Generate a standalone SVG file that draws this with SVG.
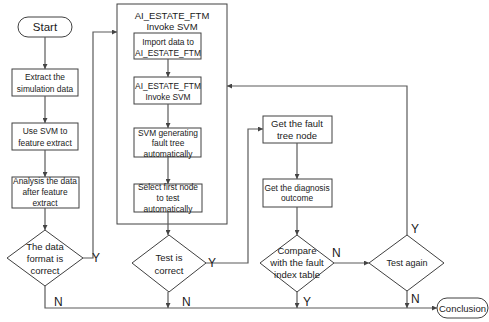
<svg xmlns="http://www.w3.org/2000/svg" width="489" height="322" viewBox="0 0 489 322">
<defs>
<marker id="ah" viewBox="0 0 6 6" refX="6" refY="3" markerWidth="5" markerHeight="5" orient="auto" markerUnits="userSpaceOnUse">
<path d="M0,0 L6,3 L0,6 z" fill="#444"/>
</marker>
<style>
.box{fill:#fff;stroke:#404040;stroke-width:1}
.frame{fill:none;stroke:#404040;stroke-width:1}
.con{fill:none;stroke:#5a5a5a;stroke-width:1.2}
.arr{marker-end:url(#ah)}
text{font-family:"Liberation Sans",Arial,sans-serif;fill:#1a1a1a;text-anchor:middle}
.s{font-size:8.4px}
.m{font-size:9.5px}
.l{font-size:11.5px}
.lab{font-size:12px;text-anchor:start}
</style>
</defs>
<rect width="489" height="322" fill="#fff"/>

<g id="ftm">
<rect class="frame" x="117" y="4" width="110" height="220"/>
<text class="m" x="172" y="19">AI_ESTATE_FTM</text>
<text class="m" x="172" y="30">Invoke SVM</text>
</g>

<g id="start">
<rect class="box" x="18" y="17" width="54" height="20" rx="10"/>
<text class="l" x="45" y="31">Start</text>
</g>
<g id="extract">
<rect class="box" x="12" y="69" width="66" height="27"/>
<text class="s" x="45" y="80">Extract the</text>
<text class="s" x="45" y="92">simulation data</text>
</g>
<g id="usesvm">
<rect class="box" x="12" y="123" width="66" height="27"/>
<text class="s" x="45" y="134">Use SVM to</text>
<text class="s" x="45" y="146">feature extract</text>
</g>
<g id="analysis">
<rect class="box" x="12" y="177" width="67" height="31"/>
<text class="s" x="45" y="184">Analysis the data</text>
<text class="s" x="45" y="195">after feature</text>
<text class="s" x="45" y="206">extract</text>
</g>
<g id="format">
<polygon class="box" points="45,230 83,258 45,286 7,258"/>
<text class="m" x="45" y="250">The data</text>
<text class="m" x="45" y="262">format is</text>
<text class="m" x="45" y="274">correct</text>
</g>

<g id="import">
<rect class="box" x="134" y="33" width="67" height="26"/>
<text class="s" x="168" y="45">Import data to</text>
<text class="s" x="168" y="56">AI_ESTATE_FTM</text>
</g>
<g id="invoke">
<rect class="box" x="134" y="77" width="67" height="27"/>
<text class="s" x="168" y="89">AI_ESTATE_FTM</text>
<text class="s" x="168" y="100">Invoke SVM</text>
</g>
<g id="generate">
<rect class="box" x="134" y="128" width="67" height="29"/>
<text class="s" x="168" y="136">SVM generating</text>
<text class="s" x="168" y="146">fault tree</text>
<text class="s" x="168" y="157">automatically</text>
</g>
<g id="select">
<rect class="box" x="134" y="184" width="68" height="28"/>
<text class="s" x="168" y="190">Select first node</text>
<text class="s" x="168" y="201">to test</text>
<text class="s" x="168" y="212">automatically</text>
</g>
<g id="testcorrect">
<polygon class="box" points="169,235 206,263 169,292 132,263"/>
<text class="m" x="169" y="261">Test is</text>
<text class="m" x="169" y="274">correct</text>
</g>

<g id="faultnode">
<rect class="box" x="263" y="116" width="69" height="27"/>
<text class="m" x="297" y="127">Get the fault</text>
<text class="m" x="297" y="139">tree node</text>
</g>
<g id="diagnosis">
<rect class="box" x="263" y="179" width="69" height="28"/>
<text class="s" x="297" y="191">Get the diagnosis</text>
<text class="s" x="297" y="201">outcome</text>
</g>
<g id="compare">
<polygon class="box" points="297,235 334,263 297,292 260,263"/>
<text class="m" x="297" y="254">Compare</text>
<text class="m" x="297" y="266">with the fault</text>
<text class="m" x="297" y="278">index table</text>
</g>
<g id="testagain">
<polygon class="box" points="407,235 444,263 407,291 369,263"/>
<text class="m" x="407" y="266" style="font-size:9px">Test again</text>
</g>
<g id="conclusion">
<rect class="box" x="437" y="298" width="51" height="20" rx="10"/>
<text class="m" x="462.5" y="311.5">Conclusion</text>
</g>

<g id="connectors">
<path class="con arr" d="M45,37 V69"/>
<path class="con arr" d="M45,96 V123"/>
<path class="con arr" d="M45,150 V177"/>
<path class="con arr" d="M45,208 V230"/>
<path class="con arr" d="M83,258 H93 V32 H117"/>
<path class="con arr" d="M168,59 V77"/>
<path class="con arr" d="M168,104 V128"/>
<path class="con arr" d="M168,157 V184"/>
<path class="con arr" d="M168,212 V235"/>
<path class="con arr" d="M206,263 H248 V129 H263"/>
<path class="con arr" d="M297,143 V179"/>
<path class="con arr" d="M297,207 V235"/>
<path class="con arr" d="M334,263 H369"/>
<path class="con arr" d="M407,235 V86 H227"/>
<path class="con arr" d="M45,286 V308 H437"/>
<path class="con arr" d="M168,292 V308"/>
<path class="con arr" d="M297,292 V308"/>
<path class="con arr" d="M407,291 V308"/>
</g>

<g id="labels">
<text class="lab" x="92" y="262">Y</text>
<text class="lab" x="54" y="306">N</text>
<text class="lab" x="208" y="267">Y</text>
<text class="lab" x="182" y="306">N</text>
<text class="lab" x="332" y="257">N</text>
<text class="lab" x="303" y="306">Y</text>
<text class="lab" x="411" y="233">Y</text>
<text class="lab" x="411" y="303">N</text>
</g>
</svg>
